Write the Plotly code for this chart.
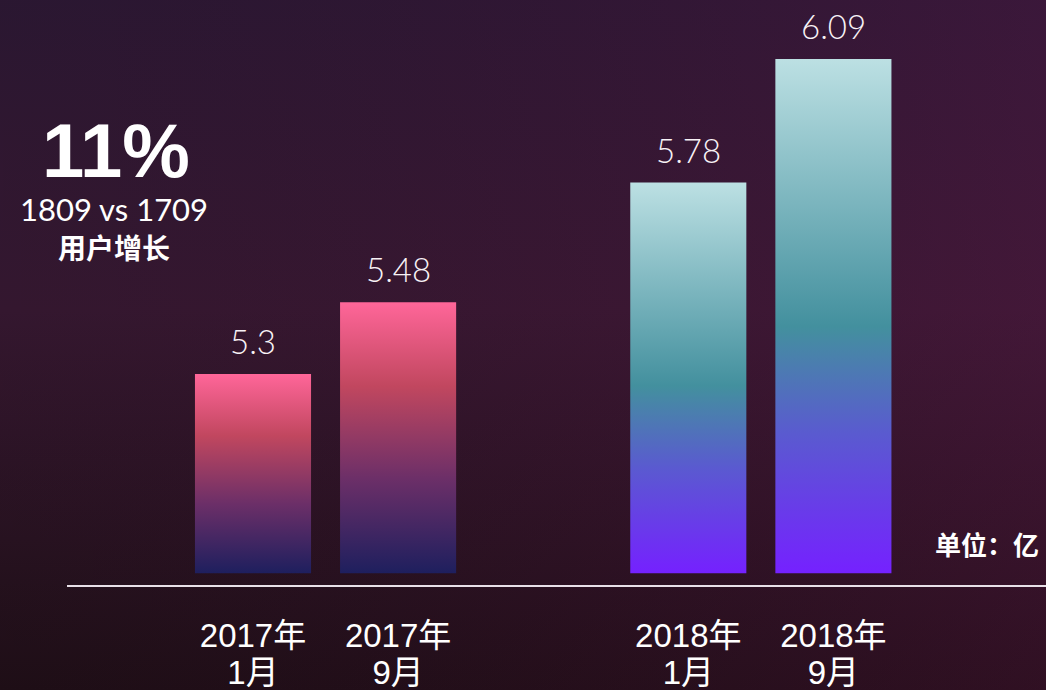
import base64
import plotly.graph_objects as go

# ---- data ----
year_labels = ["2017年", "2017年", "2018年", "2018年"]
month_labels = ["1月", "9月", "1月", "9月"]
positions = [0, 1, 3, 4]
values = [5.3, 5.48, 5.78, 6.09]
value_labels = ["5.3", "5.48", "5.78", "6.09"]
bar_base = 4.8
bar_width = 0.8

pink_scale = [[0.0, "#1e1f5e"], [0.35, "#6c2f68"], [0.69, "#c1475f"], [1.0, "#ff6699"]]
teal_scale = [[0.0, "#7521ff"], [0.27, "#5a5ad0"], [0.48, "#43909e"], [1.0, "#bce0e3"]]
scales = [pink_scale, pink_scale, teal_scale, teal_scale]

categories = [
    f"<span style='font-size:33px'>{y}</span><br><span style='font-size:33px'>{m}</span>"
    for y, m in zip(year_labels, month_labels)
]

fig = go.Figure()

for pos, val, cs in zip(positions, values, scales):
    x0, x1 = pos - bar_width / 2, pos + bar_width / 2
    fig.add_trace(go.Scatter(
        x=[x0, x1, x1, x0, x0],
        y=[bar_base, bar_base, val, val, bar_base],
        mode="lines",
        line=dict(width=0),
        fill="toself",
        fillgradient=dict(type="vertical", colorscale=cs),
        hoverinfo="skip",
        showlegend=False,
    ))

for pos, val, lab in zip(positions, values, value_labels):
    fig.add_annotation(x=pos, y=val, text=lab, showarrow=False,
                       xanchor="center", yanchor="middle", yshift=33,
                       font=dict(family="Lato", size=33, color="#f8f2f6", weight=300))

# background gradient
svg = """<svg xmlns='http://www.w3.org/2000/svg' width='1046' height='690' viewBox='0 0 1046 690' preserveAspectRatio='none'>
<defs>
<linearGradient id='v' x1='0' y1='0' x2='0' y2='1'>
<stop offset='0' stop-color='#301a38'/>
<stop offset='0.45' stop-color='#3b1a35'/>
<stop offset='1' stop-color='#221019'/>
</linearGradient>
<linearGradient id='h' x1='0' y1='0' x2='1' y2='0'>
<stop offset='0' stop-color='#000000' stop-opacity='0.12'/>
<stop offset='1' stop-color='#5a1040' stop-opacity='0.25'/>
</linearGradient>
</defs>
<rect width='1046' height='690' fill='url(#v)'/>
<rect width='1046' height='690' fill='url(#h)'/>
</svg>"""
src = "data:image/svg+xml;base64," + base64.b64encode(svg.encode()).decode()

W, H = 1046, 690
ml, mr, mt, mb = 67, 0, 0, 105
pw, ph = W - ml - mr, H - mt - mb
fig.add_layout_image(source=src, xref="paper", yref="paper",
                     x=-ml / pw, y=1 + mt / ph, sizex=W / pw, sizey=H / ph,
                     xanchor="left", yanchor="top", sizing="stretch", layer="below")

# left-side text
fig.add_annotation(xref="paper", yref="paper", x=(116 - ml) / pw, y=1 - (150 - mt) / ph,
                   text="<b>11%</b>", showarrow=False, xanchor="center", yanchor="middle",
                   font=dict(family="Liberation Sans", size=76, color="#ffffff"))
fig.add_annotation(xref="paper", yref="paper", x=(114 - ml) / pw, y=1 - (209 - mt) / ph,
                   text="1809 vs 1709", showarrow=False, xanchor="center", yanchor="middle",
                   font=dict(family="Lato", size=31, color="#ffffff"))
fig.add_annotation(xref="paper", yref="paper", x=(114 - ml) / pw, y=1 - (247 - mt) / ph,
                   text="<b>用户增长</b>", showarrow=False, xanchor="center", yanchor="middle",
                   font=dict(family="Noto Sans CJK SC", size=28, color="#ffffff"))
fig.add_annotation(xref="paper", yref="paper", x=(1041 - ml) / pw, y=1 - (543 - mt) / ph,
                   text="<b>单位：亿</b>", showarrow=False, xanchor="right", yanchor="middle",
                   font=dict(family="Noto Sans CJK SC", size=26, color="#ffffff"))

px_x = 145.1
px_y = 398.7
fig.update_layout(
    width=W, height=H,
    margin=dict(l=ml, r=mr, t=mt, b=mb),
    paper_bgcolor="#2f1729",
    plot_bgcolor="rgba(0,0,0,0)",
    showlegend=False,
    xaxis=dict(range=[-(253 - ml) / px_x, (W - 253) / px_x],
               tickmode="array", tickvals=positions, ticktext=categories,
               showgrid=False, zeroline=False, showline=True,
               linecolor="#e8e0e8", linewidth=2, ticks="", ticklabelstandoff=26,
               tickfont=dict(family="Liberation Sans, Noto Sans CJK SC", size=28.5, color="#ffffff"),
               fixedrange=True),
    yaxis=dict(range=[5.3 - (585 - 374) / px_y, 5.3 + 374 / px_y],
               visible=False, showgrid=False, zeroline=False, fixedrange=True),
)

fig.write_html("out.html",
               config={"displayModeBar": False},
               post_script="document.body.style.margin='0';document.body.style.overflow='hidden';")
